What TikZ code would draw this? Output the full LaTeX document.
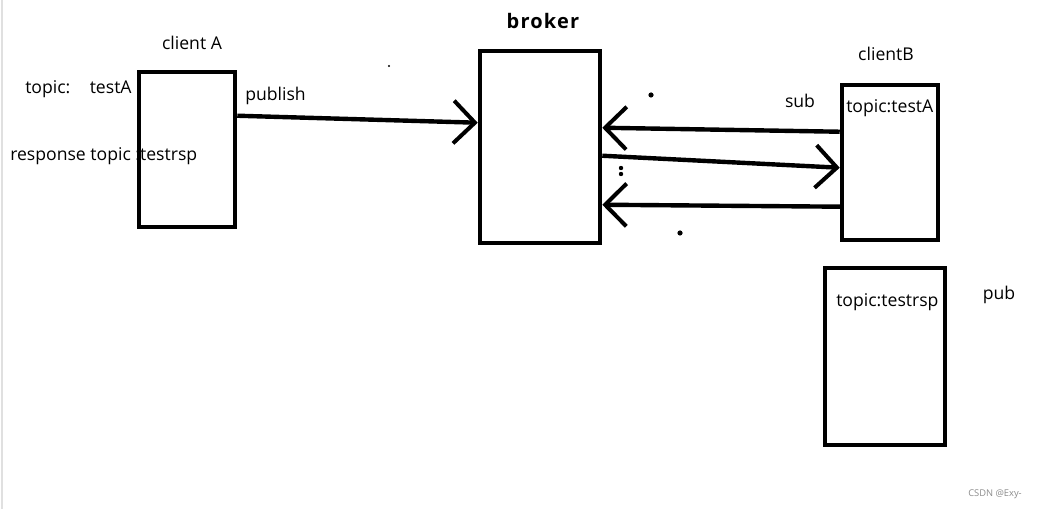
\documentclass[tikz,border=0pt]{standalone}
\usepackage{fontspec}
\setmainfont{Open Sans}
\usetikzlibrary{arrows.meta}
\begin{document}
\begin{tikzpicture}[x=0.75pt,y=-0.75pt,
  box/.style={draw=black,line width=3.4pt,fill=white,rectangle,inner sep=0pt},
  lbl/.style={inner sep=0pt,font=\fontsize{13.2}{15}\selectfont},
  conn/.style={line width=3.3pt,-{Straight Barb[length=16pt,width=32pt,line width=3pt]}},
  dot/.style={fill=black,draw=none}]
\useasboundingbox (0,0) rectangle (1041,509);
\fill[white] (0,0) rectangle (1041,509);
\draw[black!12,line width=1pt] (2,0) -- (2,509);
% boxes
\node[box,minimum width=72pt,minimum height=116.25pt] (A) at (187,149.5) {};
\node[box,minimum width=90pt,minimum height=144pt] (broker) at (540,147) {};
\node[box,minimum width=72pt,minimum height=116.25pt] (B) at (890,162.5) {};
\node[box,minimum width=90pt,minimum height=132.75pt] (C) at (885,356.5) {};
% texts
\node[lbl] (tA) at (192,43) {client A};
\node[lbl,anchor=west] (tAtopic) at (25,89) {topic:\hspace{1.1em}testA};
\node[lbl,anchor=west] (tArsp) at (10,156) {response topic :testrsp};
\node[lbl,anchor=west] (tpub) at (245,96) {publish};
\node[inner sep=0pt,font=\fontsize{15}{17}\selectfont\bfseries\addfontfeature{LetterSpace=6}] (tbroker) at (543,21) {broker};
\node[lbl] (tB) at (886,54) {clientB};
\node[lbl] (tsub) at (800,101) {sub};
\node[lbl,anchor=west] (tBtopic) at (846,108) {topic:testA};
\node[lbl,anchor=west] (tCtopic) at (836,302) {topic:testrsp};
\node[lbl] (tpubC) at (999,295) {pub};
\node[inner sep=0pt,font=\fontsize{7}{8}\selectfont,text=black!45] (wm) at (995,494) {CSDN @Exy-};
% connectors
\draw[conn] ([yshift=-34.5pt]A.north east) -- ([yshift=-55.5pt]broker.north west);
\draw[conn] ([yshift=-36.75pt]B.north west) -- ([yshift=-59.25pt]broker.north east);
\draw[conn] ([yshift=-80.25pt]broker.north east) -- ([yshift=-63.75pt]B.north west);
\draw[conn] ([yshift=-93pt,xshift=3pt]B.north west) -- ([yshift=-117pt]broker.north east);
% stray dots
\fill[dot] (389,66) circle (1.2);
\fill[dot] (651,95) circle (2.6);
\fill[dot] (621,168) circle (2.2);
\fill[dot] (621,174) circle (2.2);
\fill[dot] (680,233) circle (2.6);
\end{tikzpicture}
\end{document}
